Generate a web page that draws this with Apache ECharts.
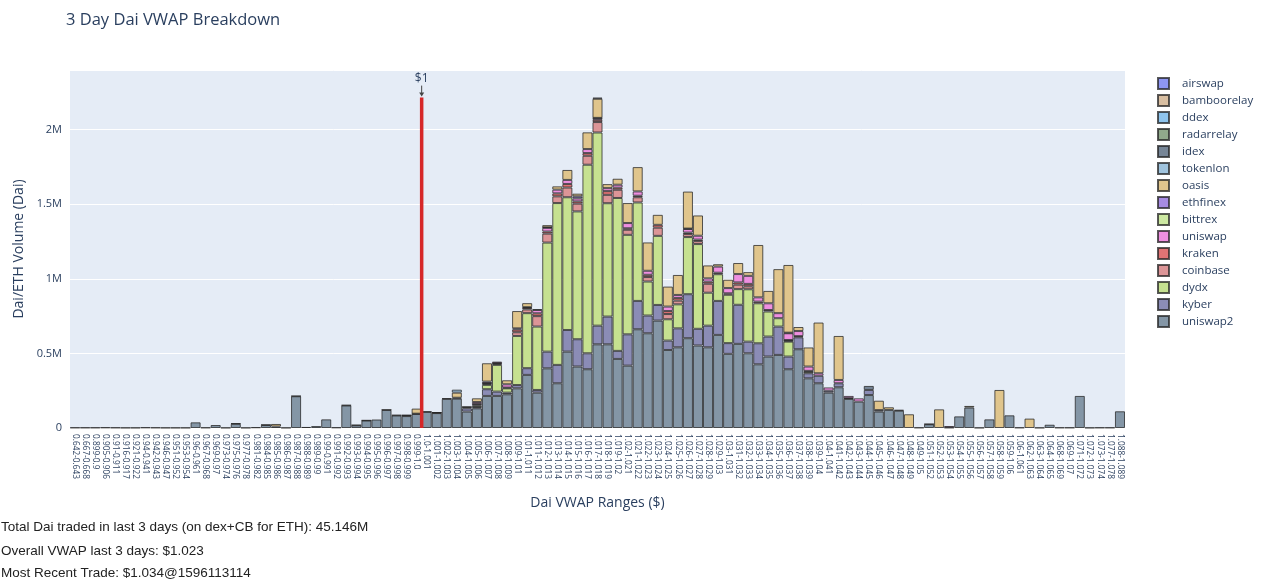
<!DOCTYPE html>
<html><head><meta charset="utf-8">
<script src="https://cdn.jsdelivr.net/npm/echarts@6/dist/echarts.min.js"></script>
<style>html,body{margin:0;padding:0;background:#fff}#chart{width:1272px;height:588px}</style>
</head><body><div id="chart"></div>
<script>
const categories = ['0.642-0.643','0.667-0.668','0.899-0.9','0.905-0.906','0.91-0.911','0.916-0.917','0.921-0.922','0.94-0.941','0.942-0.943','0.946-0.947','0.951-0.952','0.953-0.954','0.96-0.961','0.967-0.968','0.969-0.97','0.973-0.974','0.975-0.976','0.977-0.978','0.981-0.982','0.984-0.985','0.985-0.986','0.986-0.987','0.987-0.988','0.988-0.989','0.989-0.99','0.99-0.991','0.991-0.992','0.992-0.993','0.993-0.994','0.994-0.995','0.995-0.996','0.996-0.997','0.997-0.998','0.998-0.999','0.999-1.0','1.0-1.001','1.001-1.002','1.002-1.003','1.003-1.004','1.004-1.005','1.005-1.006','1.006-1.007','1.007-1.008','1.008-1.009','1.009-1.01','1.01-1.011','1.011-1.012','1.012-1.013','1.013-1.014','1.014-1.015','1.015-1.016','1.016-1.017','1.017-1.018','1.018-1.019','1.019-1.02','1.02-1.021','1.021-1.022','1.022-1.023','1.023-1.024','1.024-1.025','1.025-1.026','1.026-1.027','1.027-1.028','1.028-1.029','1.029-1.03','1.03-1.031','1.031-1.032','1.032-1.033','1.033-1.034','1.034-1.035','1.035-1.036','1.036-1.037','1.037-1.038','1.038-1.039','1.039-1.04','1.04-1.041','1.041-1.042','1.042-1.043','1.043-1.044','1.044-1.045','1.045-1.046','1.046-1.047','1.047-1.048','1.048-1.049','1.049-1.05','1.051-1.052','1.052-1.053','1.053-1.054','1.054-1.055','1.055-1.056','1.056-1.057','1.057-1.058','1.058-1.059','1.059-1.06','1.06-1.061','1.062-1.063','1.063-1.064','1.064-1.065','1.068-1.069','1.069-1.07','1.071-1.072','1.072-1.073','1.073-1.074','1.077-1.078','1.088-1.089'];

// volumes in thousands of Dai
const uniswap2 = [3,3,3,4,3,2,2,4,3,2,2,2,
 38,3,20,2,28,2,5,20,10,2,
 213,7,13,58,4,151,18,50,57,121,84,80,94,108,
 100,195,197,110,132,215,215,226,266,356,237,400,
 300,512,412,394,561,561,463,418,662,635,720,523,
 541,602,553,541,624,497,564,501,427,479,490,394,
 528,333,300,237,273,195,177,221,110,121,116,0,
 3,25,0,3,78,137,2,58,0,85,3,0,
 2,22,3,3,215,2,3,3,112];
const kyber = [0,0,0,0,0,0,0,0,0,0,0,0,0,0,0,0,0,0,0,0,0,0,
 2,0,0,0,0,3,2,2,0,2,3,4,2,2,
 2,0,6,22,8,45,29,11,22,45,18,112,
 123,145,183,107,125,186,54,210,190,119,105,63,
 127,295,112,145,228,72,262,78,141,134,190,85,
 80,34,50,13,27,0,0,34,10,0,0,0,
 0,0,0,0,0,0,0,0,0,0,0,0,0,0,0,0,0,0,0,0,0];
const dydx = [0,0,0,0,0,0,0,0,0,0,0,0,0,0,0,0,0,0,0,0,0,0,0,0,0,0,0,0,0,0,0,0,0,0,0,0,0,0,0,
 8,10,29,179,29,329,369,425,731,
 1085,890,857,1264,1295,760,1025,667,660,228,463,143,
 161,383,568,221,179,324,105,351,268,168,56,100,
 0,10,
 0,0,0,0,0,0,0,0,0,0,0,0,0,0,0,0,0,0,0,0,0,0,0,0,0,0,0,0,0,0,0];
const coinbase = {'1.005-1.006':8,'1.006-1.007':8,'1.007-1.008':8,'1.008-1.009':5,'1.009-1.01':25,'1.01-1.011':25,'1.011-1.012':70,'1.012-1.013':60,'1.013-1.014':45,'1.014-1.015':65,'1.015-1.016':52,'1.016-1.017':60,'1.017-1.018':70,'1.018-1.019':56,'1.019-1.02':55,'1.02-1.021':34,'1.021-1.022':35,'1.022-1.023':30,'1.023-1.024':55,'1.024-1.025':35,'1.025-1.026':25,'1.026-1.027':20,'1.027-1.028':20,'1.028-1.029':60,'1.029-1.03':10,'1.03-1.031':10,'1.031-1.032':30,'1.032-1.033':20,'1.033-1.034':11,'1.034-1.035':10,'1.036-1.037':6};
const kraken = {'1.005-1.006':4,'1.006-1.007':4,'1.007-1.008':4,'1.009-1.01':18,'1.01-1.011':10,'1.011-1.012':19,'1.012-1.013':14,'1.013-1.014':20,'1.014-1.015':24,'1.015-1.016':15,'1.016-1.017':18,'1.017-1.018':15,'1.018-1.019':25,'1.019-1.02':14,'1.02-1.021':10,'1.021-1.022':10,'1.022-1.023':15,'1.023-1.024':19,'1.024-1.025':20,'1.025-1.026':18,'1.026-1.027':10,'1.027-1.028':10,'1.028-1.029':14,'1.031-1.032':15,'1.032-1.033':16,'1.036-1.037':5,'1.037-1.038':8,'1.038-1.039':6,'1.042-1.043':5};
const uniswap = {'0.998-0.999':3,'1.002-1.003':4,'1.005-1.006':12,'1.006-1.007':10,'1.007-1.008':10,'1.008-1.009':22,'1.009-1.01':8,'1.01-1.011':5,'1.011-1.012':22,'1.012-1.013':25,'1.013-1.014':25,'1.014-1.015':27,'1.015-1.016':20,'1.016-1.017':27,'1.017-1.018':10,'1.018-1.019':20,'1.019-1.02':20,'1.02-1.021':35,'1.021-1.022':29,'1.022-1.023':27,'1.024-1.025':30,'1.025-1.026':20,'1.026-1.027':24,'1.027-1.028':26,'1.028-1.029':22,'1.029-1.03':41,'1.03-1.031':35,'1.031-1.032':56,'1.032-1.033':54,'1.033-1.034':29,'1.034-1.035':45,'1.035-1.036':34,'1.036-1.037':45,'1.037-1.038':34,'1.038-1.039':29,'1.039-1.04':17,'1.04-1.041':22,'1.041-1.042':22,'1.042-1.043':15,'1.043-1.044':22,'1.053-1.054':10};
const bittrex = {'1.012-1.013':3,'1.017-1.018':3,'1.026-1.027':3,'1.036-1.037':4};
const ethfinex = {'1.015-1.016':14};
const oasis = {'0.984-0.985':2,'0.985-0.986':17,'0.999-1.0':34,'1.001-1.002':3,'1.003-1.004':34,'1.005-1.006':25,'1.006-1.007':123,'1.008-1.009':27,'1.009-1.01':116,'1.01-1.011':27,'1.011-1.012':5,'1.012-1.013':15,'1.013-1.014':22,'1.014-1.015':67,'1.015-1.016':18,'1.016-1.017':112,'1.017-1.018':128,'1.018-1.019':27,'1.019-1.02':40,'1.02-1.021':134,'1.021-1.022':163,'1.022-1.023':190,'1.023-1.024':67,'1.024-1.025':134,'1.025-1.026':134,'1.026-1.027':248,'1.027-1.028':136,'1.028-1.029':87,'1.029-1.03':16,'1.03-1.031':56,'1.031-1.032':74,'1.032-1.033':25,'1.033-1.034':351,'1.034-1.035':83,'1.035-1.036':295,'1.036-1.037':454,'1.037-1.038':27,'1.038-1.039':128,'1.039-1.04':340,'1.041-1.042':295,'1.045-1.046':63,'1.046-1.047':18,'1.048-1.049':92,'1.052-1.053':125,'1.055-1.056':11,'1.058-1.059':255,'1.062-1.063':63};
const tokenlon = {'1.003-1.004':20};
const idex = {'0.975-0.976':3,'1.004-1.005':3,'1.017-1.018':8,'1.044-1.045':27,'1.047-1.048':5,'1.051-1.052':2};
const radarrelay = {};
const ddex = {};
const bamboorelay = {};
const airswap = {};

const yTicks = [0, 500000, 1000000, 1500000, 2000000];
const yTickLabels = ['0', '0.5M', '1M', '1.5M', '2M'];
const dollarRange = '1.0-1.001';
const infoLines = [
  'Total Dai traded in last 3 days (on dex+CB for ETH): 45.146M',
  'Overall VWAP last 3 days: $1.023',
  'Most Recent Trade: $1.034@1596113114'
];

// stack order bottom -> top
const seriesDefs = [
  ['uniswap2', uniswap2, '#8496a6'],
  ['kyber', kyber, '#8b8cb6'],
  ['dydx', dydx, '#c6e190'],
  ['coinbase', coinbase, '#dc9597'],
  ['kraken', kraken, '#e07374'],
  ['uniswap', uniswap, '#ee8fe0'],
  ['bittrex', bittrex, '#cde9a2'],
  ['ethfinex', ethfinex, '#a68be2'],
  ['oasis', oasis, '#e0c58c'],
  ['tokenlon', tokenlon, '#a0c4de'],
  ['idex', idex, '#768596'],
  ['radarrelay', radarrelay, '#90a98b'],
  ['ddex', ddex, '#8fc5ee'],
  ['bamboorelay', bamboorelay, '#d9bfa2'],
  ['airswap', airswap, '#8e96f3']
];

function toArray(src) {
  return categories.map((c, i) => {
    const v = Array.isArray(src) ? src[i] : (src[c] || 0);
    return v ? v * 1000 : '-';
  });
}
const seriesData = seriesDefs.map(d => toArray(d[1]));
const totals = categories.map((c, i) => seriesData.reduce((s, arr) => s + (arr[i] === '-' ? 0 : arr[i]), 0));
const maxTotal = Math.max(...totals);
const dollarIdx = categories.indexOf(dollarRange);

const FONT = '"Open Sans", "Liberation Sans", sans-serif';
const TXT = '#2a3f5f';

const chart = echarts.init(document.getElementById('chart'), null, {renderer: 'canvas'});

const barSeries = seriesDefs.map((d, k) => ({
  name: d[0], type: 'bar', stack: 'total', xAxisIndex: 0, yAxisIndex: 0,
  data: seriesData[k], barCategoryGap: '0%',
  itemStyle: { color: d[2], borderColor: 'rgba(35,35,35,0.75)', borderWidth: 1 },
  emphasis: { disabled: true }
}));

const option = {
  animation: false,
  backgroundColor: '#ffffff',
  title: {
    text: '3 Day Dai VWAP Breakdown', left: 61, top: 7,
    textStyle: { fontFamily: FONT, fontSize: 16.5, fontWeight: 'normal', color: TXT }
  },
  legend: {
    orient: 'vertical', left: 1152, top: 72,
    data: seriesDefs.map(d => d[0]).slice().reverse(),
    itemWidth: 11, itemHeight: 11, itemGap: 4,
    icon: 'rect',
    textStyle: { fontFamily: FONT, fontSize: 11.5, color: TXT, padding: [0, 0, 0, 8] }
  },
  grid: { left: 70, right: 147, top: 70, bottom: 160, show: true, backgroundColor: '#e5ecf6', borderWidth: 0 },
  xAxis: [{
    type: 'category', data: categories, gridIndex: 0,
    name: 'Dai VWAP Ranges ($)', nameLocation: 'middle', nameGap: 68,
    nameTextStyle: { fontFamily: FONT, fontSize: 14, color: TXT },
    axisLine: { show: true, lineStyle: { color: '#ffffff', width: 1 } },
    axisTick: { show: false },
    axisLabel: { rotate: -90, interval: 0, margin: 6, fontFamily: FONT, fontSize: 8.3, color: TXT },
    splitLine: { show: false }
  }, {
    type: 'value', gridIndex: 0, min: 0, max: categories.length, show: false
  }],
  yAxis: [{
    type: 'value', min: 0, max: 2400000, interval: 500000,
    name: 'Dai/ETH Volume (Dai)', nameLocation: 'middle', nameGap: 42, nameRotate: 90,
    nameTextStyle: { fontFamily: FONT, fontSize: 14, color: TXT },
    axisLine: { show: false }, axisTick: { show: false },
    axisLabel: {
      showMaxLabel: false, margin: 8, fontFamily: FONT, fontSize: 11, color: TXT,
      formatter: v => { const i = yTicks.indexOf(v); return i >= 0 ? yTickLabels[i] : ''; }
    },
    splitLine: { lineStyle: { color: '#ffffff', width: 1 } }
  }],
  series: barSeries.concat([{
    name: '$1 line', type: 'line', xAxisIndex: 1, yAxisIndex: 0,
    data: [[dollarIdx, 0], [dollarIdx, maxTotal]],
    symbol: 'none', silent: true, z: 10,
    lineStyle: { color: '#d62728', width: 3.5 }
  }])
};
chart.setOption(option);

const dollarTop = chart.convertToPixel({ xAxisIndex: 1, yAxisIndex: 0 }, [dollarIdx, maxTotal]);
const px = dollarTop[0], py = dollarTop[1];
const infoFont = '13.5px "Liberation Sans", Arial, sans-serif';
chart.setOption({
  graphic: [
    { type: 'text', left: 1, top: 520, style: { text: infoLines[0], font: infoFont, fill: '#222' } },
    { type: 'text', left: 1, top: 544, style: { text: infoLines[1], font: infoFont, fill: '#222' } },
    { type: 'text', left: 1, top: 566, style: { text: infoLines[2], font: infoFont, fill: '#222' } },
    { type: 'text', x: px, y: py - 19, style: { text: '$1', textAlign: 'center', textVerticalAlign: 'middle', font: '12px "Open Sans", sans-serif', fill: TXT } },
    { type: 'line', shape: { x1: px, y1: py - 12, x2: px, y2: py - 3 }, style: { stroke: '#444', lineWidth: 1 } },
    { type: 'polygon', shape: { points: [[px - 2.5, py - 5], [px + 2.5, py - 5], [px, py - 1]] }, style: { fill: '#444' } }
  ]
});
</script>
</body></html>
